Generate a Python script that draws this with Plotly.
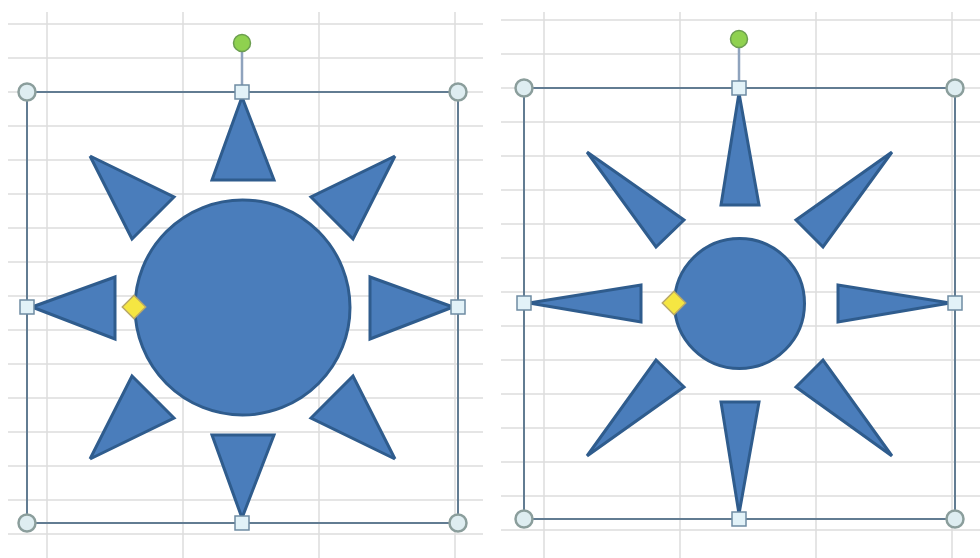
import plotly.graph_objects as go

# Pixel-like coordinate system of the picture (x right, y down)
grid_left_h = [24, 58, 92, 126, 160, 194, 228, 262, 296, 330, 364, 398, 432, 466, 500, 534]
grid_left_v = [47, 183, 319, 455]
grid_right_h = [20, 54, 88, 122, 156, 190, 224, 258, 292, 326, 360, 394, 428, 462, 496, 530]
grid_right_v = [544, 680, 816, 952]

left_rays = [
    [(242, 97), (212, 180), (274, 180)],
    [(395, 156), (311, 197), (353, 239)],
    [(453, 307), (370, 277), (370, 339)],
    [(395, 459), (311, 418), (353, 376)],
    [(242, 518), (212, 435), (274, 435)],
    [(90, 459), (174, 418), (132, 376)],
    [(32, 307), (115, 277), (115, 339)],
    [(90, 156), (174, 197), (132, 239)],
]
right_rays = [
    [(739, 93), (721, 205), (759, 205)],
    [(892, 152), (796, 220), (823, 247)],
    [(950, 303), (838, 285), (838, 322)],
    [(892, 456), (796, 387), (823, 360)],
    [(739, 514), (721, 402), (759, 402)],
    [(587, 456), (684, 387), (656, 360)],
    [(529, 303), (641, 285), (641, 322)],
    [(587, 152), (684, 220), (656, 247)],
]
sun_x = [242.5, 739.5]
sun_y = [307.5, 303.5]
sun_diameter = [215, 130]

frames = [(27, 92, 458, 523), (524, 88, 955, 519)]
corner_x = [27, 458, 458, 27, 524, 955, 955, 524]
corner_y = [92, 92, 523, 523, 88, 88, 519, 519]
edge_x = [242, 458, 242, 27, 739, 955, 739, 524]
edge_y = [92, 307, 523, 307, 88, 303, 519, 303]
rotate_x = [242, 739]
rotate_y = [43, 39]
stem_bottom_y = [92, 88]
adjust_x = [134, 674]
adjust_y = [307, 303]

BLUE = "#4a7dbb"
EDGE = "#2f5c8d"
GRID = "#dcdcdc"
FRAME = "#627c92"

fig = go.Figure()


def add_line(xs, ys, color, width):
    fig.add_trace(go.Scatter(x=xs, y=ys, mode="lines", line=dict(color=color, width=width),
                             hoverinfo="skip", showlegend=False))


for y in grid_left_h:
    add_line([8, 483], [y, y], GRID, 1.5)
for x in grid_left_v:
    add_line([x, x], [12, 558], GRID, 1.5)
for y in grid_right_h:
    add_line([501, 980], [y, y], GRID, 1.5)
for x in grid_right_v:
    add_line([x, x], [12, 558], GRID, 1.5)

for (x0, y0, x1, y1) in frames:
    add_line([x0, x1, x1, x0, x0], [y0, y0, y1, y1, y0], FRAME, 2)

for rx, ry, sb in zip(rotate_x, rotate_y, stem_bottom_y):
    add_line([rx, rx], [ry, sb], "#8fa3bd", 2.5)

for ray in left_rays + right_rays:
    xs = [p[0] for p in ray] + [ray[0][0]]
    ys = [p[1] for p in ray] + [ray[0][1]]
    fig.add_trace(go.Scatter(x=xs, y=ys, mode="lines", fill="toself", fillcolor=BLUE,
                             line=dict(color=EDGE, width=3), hoverinfo="skip", showlegend=False))

fig.add_trace(go.Scatter(x=sun_x, y=sun_y, mode="markers",
                         marker=dict(symbol="circle", size=sun_diameter, sizemode="diameter", color=BLUE,
                                     opacity=1, line=dict(color=EDGE, width=3)),
                         hoverinfo="skip", showlegend=False))

fig.add_trace(go.Scatter(x=corner_x, y=corner_y, mode="markers",
                         marker=dict(symbol="circle", size=17, color="#deedf1", opacity=1,
                                     line=dict(color="#8b9e9c", width=2.5)),
                         hoverinfo="skip", showlegend=False))
fig.add_trace(go.Scatter(x=edge_x, y=edge_y, mode="markers",
                         marker=dict(symbol="square", size=14, color="#e2f2f8", opacity=1,
                                     line=dict(color="#6f8ca3", width=1.5)),
                         hoverinfo="skip", showlegend=False))
fig.add_trace(go.Scatter(x=rotate_x, y=rotate_y, mode="markers",
                         marker=dict(symbol="circle", size=17, color="#8fd14f", opacity=1,
                                     line=dict(color="#6c9e50", width=1.5)),
                         hoverinfo="skip", showlegend=False))
fig.add_trace(go.Scatter(x=adjust_x, y=adjust_y, mode="markers",
                         marker=dict(symbol="diamond", size=18, color="#f5e642", opacity=1,
                                     line=dict(color="#b8a86a", width=1.5)),
                         hoverinfo="skip", showlegend=False))

fig.update_layout(
    width=980, height=558,
    margin=dict(l=0, r=0, t=0, b=0),
    paper_bgcolor="white", plot_bgcolor="white",
    xaxis=dict(range=[0, 980], visible=False, fixedrange=True),
    yaxis=dict(range=[558, 0], visible=False, fixedrange=True),
    showlegend=False,
)
fig.write_html("out.html", config={"displayModeBar": False},
               post_script="document.body.style.margin='0';document.body.style.overflow='hidden';")
